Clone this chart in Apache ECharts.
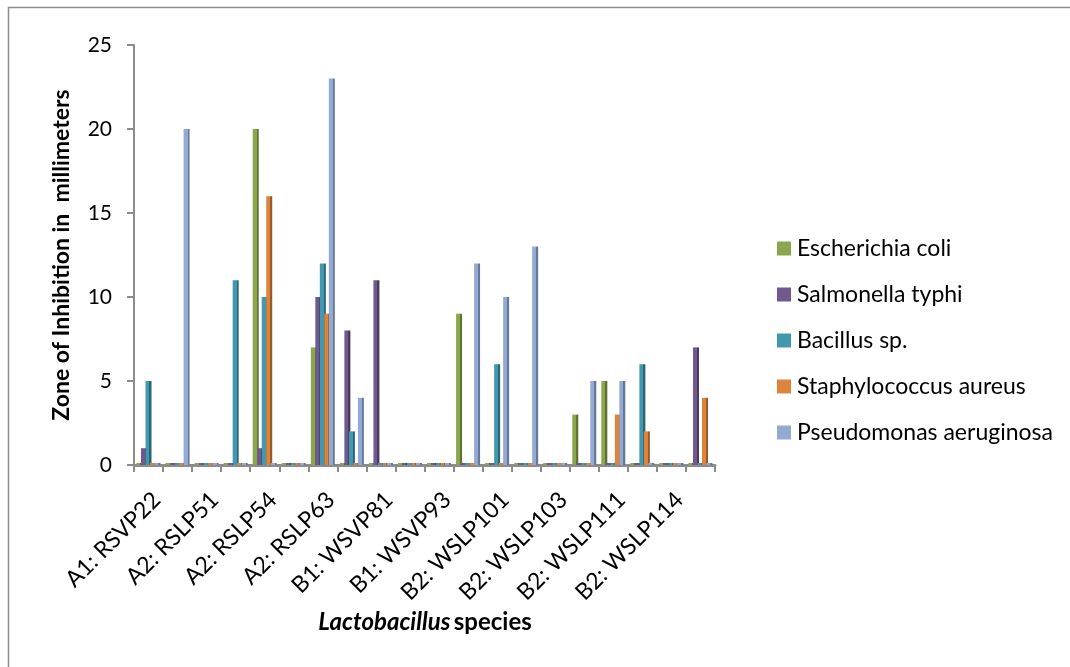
<!DOCTYPE html>
<html>
<head>
<meta charset="utf-8">
<title>Zone of Inhibition by Lactobacillus species</title>
<script src="https://cdn.jsdelivr.net/npm/echarts@6/dist/echarts.min.js"></script>
<style>
  html, body { margin: 0; padding: 0; background: #ffffff; }
  #chart { width: 1070px; height: 667px; }
</style>
</head>
<body>
<div id="chart"></div>
<script>
// Isolates along the x axis; unlabelled slots sit between the named ones.
const categories = [
  'A1: RSVP22', '', 'A2: RSLP51', '', 'A2: RSLP54', '', 'A2: RSLP63', '',
  'B1: WSVP81', '', 'B1: WSVP93', '', 'B2: WSLP101', '', 'B2: WSLP103', '',
  'B2: WSLP111', '', 'B2: WSLP114', ''
];

const seriesNames = [
  'Escherichia coli', 'Salmonella typhi', 'Bacillus sp.',
  'Staphylococcus aureus', 'Pseudomonas aeruginosa'
];

// Zone of inhibition (mm) for each test organism
const escherichiaColi      = [0, 0, 0, 0, 20, 0, 7, 0, 0, 0, 0, 9, 0, 0, 0, 3, 5, 0, 0, 0];
const salmonellaTyphi      = [1, 0, 0, 0, 1, 0, 10, 8, 11, 0, 0, 0, 0, 0, 0, 0, 0, 0, 0, 7];
const bacillusSp           = [5, 0, 0, 11, 10, 0, 12, 2, 0, 0, 0, 0, 6, 0, 0, 0, 0, 6, 0, 0];
const staphylococcusAureus = [0, 0, 0, 0, 16, 0, 9, 0, 0, 0, 0, 0, 0, 0, 0, 0, 3, 2, 0, 4];
const pseudomonasAeruginosa= [0, 20, 0, 0, 0, 0, 23, 4, 0, 0, 0, 12, 10, 13, 0, 5, 5, 0, 0, 0];

const yTicks = [0, 5, 10, 15, 20, 25];

const seriesData = [escherichiaColi, salmonellaTyphi, bacillusSp, staphylococcusAureus, pseudomonasAeruginosa];
const faceColors = ['#8BA74E', '#71588F', '#4298AF', '#DC843B', '#94AAD3'];
const sideColors = ['#5E7332', '#4A3A5E', '#2B6676', '#9A5A26', '#66789A'];

const FONT = 'Lato, "Open Sans", sans-serif';

// Front face plus a darker right edge to give the columns some depth
function columnFill(i) {
  return {
    type: 'linear', x: 0, y: 0, x2: 1, y2: 0,
    colorStops: [
      { offset: 0, color: faceColors[i] },
      { offset: 0.66, color: faceColors[i] },
      { offset: 0.66, color: sideColors[i] },
      { offset: 1, color: sideColors[i] }
    ]
  };
}

const chart = echarts.init(document.getElementById('chart'), null, { renderer: 'canvas' });

chart.setOption({
  backgroundColor: '#ffffff',
  animation: false,
  grid: { left: 134, right: 355, top: 45, bottom: 202, containLabel: false },
  legend: {
    orient: 'vertical',
    left: 772,
    top: 232,
    itemWidth: 14,
    itemHeight: 14,
    itemGap: 23,
    icon: 'rect',
    textStyle: { fontFamily: FONT, fontSize: 23, color: '#000000', padding: [0, 0, 0, 1] },
    data: seriesNames.map((n, i) => ({ name: n, itemStyle: { color: faceColors[i] } }))
  },
  xAxis: {
    type: 'category',
    data: categories,
    boundaryGap: true,
    axisLine: { show: true, lineStyle: { color: '#8C8C8C', width: 3 } },
    axisTick: { show: true, interval: 0, length: 7, lineStyle: { color: '#8C8C8C', width: 2 } },
    axisLabel: {
      interval: 0,
      rotate: 45,
      margin: 23,
      verticalAlign: 'top',
      fontFamily: FONT,
      fontSize: 23,
      color: '#000000'
    },
    splitLine: { show: false }
  },
  yAxis: {
    type: 'value',
    min: yTicks[0],
    max: yTicks[yTicks.length - 1],
    interval: yTicks[1] - yTicks[0],
    name: 'Zone of Inhibition in  millimeters',
    nameLocation: 'middle',
    nameRotate: 90,
    nameGap: 61,
    nameTextStyle: { fontFamily: FONT, fontSize: 23, fontWeight: 'bold', color: '#000000' },
    axisLine: { show: true, lineStyle: { color: '#8C8C8C', width: 2 } },
    axisTick: { show: true, length: 7, lineStyle: { color: '#8C8C8C', width: 2 } },
    axisLabel: { margin: 22, fontFamily: FONT, fontSize: 21, color: '#000000' },
    splitLine: { show: false }
  },
  series: seriesNames.map((name, i) => ({
    name: name,
    type: 'bar',
    data: seriesData[i],
    barWidth: 6,
    barGap: '-25%',
    barMinHeight: 2,
    itemStyle: { color: columnFill(i) },
    emphasis: { disabled: true }
  })),
  graphic: [
    {
      type: 'rect',
      shape: { x: 8.5, y: 7.5, width: 1100, height: 700 },
      style: { fill: 'none', stroke: '#8E8E8E', lineWidth: 1.5 },
      silent: true
    },
    {
      type: 'text',
      x: 425,
      y: 622,
      style: {
        text: '{i|Lactobacillus} {b|species}',
        align: 'center',
        verticalAlign: 'middle',
        rich: {
          i: { fontFamily: FONT, fontSize: 24, fontWeight: 'bold', fontStyle: 'italic', fill: '#000000' },
          b: { fontFamily: FONT, fontSize: 24, fontWeight: 'bold', fill: '#000000' }
        }
      }
    }
  ]
});
</script>
</body>
</html>
